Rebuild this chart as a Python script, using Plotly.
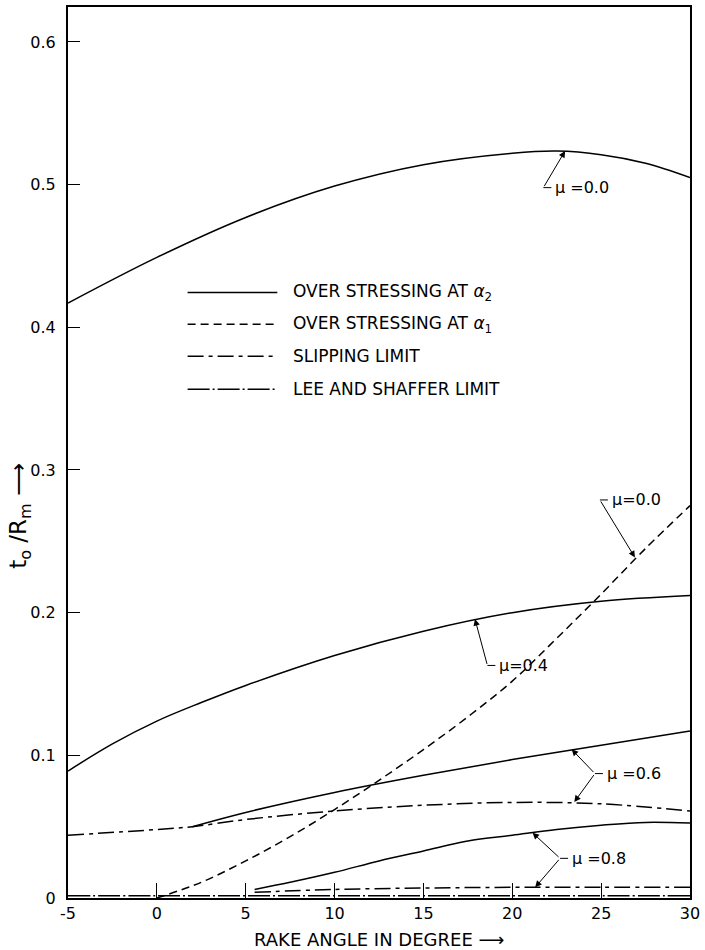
import plotly.graph_objects as go

# ---------------- data ----------------
# over stressing at alpha2 (solid)
x_a2_mu00 = [-5, 0, 5, 10, 15, 20, 22.5, 25, 27.5, 30]
y_a2_mu00 = [0.417, 0.449, 0.477, 0.499, 0.514, 0.522, 0.5235, 0.521, 0.515, 0.505]

x_a2_mu04 = [-5, -2.5, 0, 2.5, 5, 10, 15, 20, 25, 30]
y_a2_mu04 = [0.089, 0.108, 0.124, 0.137, 0.149, 0.170, 0.187, 0.200, 0.208, 0.212]

x_a2_mu06 = [2, 5, 10, 15, 20, 25, 30]
y_a2_mu06 = [0.050, 0.060, 0.074, 0.086, 0.097, 0.107, 0.117]

x_a2_mu08 = [5.5, 7.5, 10, 12.5, 15, 17.5, 20, 22.5, 25, 27.5, 30]
y_a2_mu08 = [0.006, 0.011, 0.018, 0.026, 0.033, 0.040, 0.044, 0.048, 0.051, 0.053, 0.0525]

# over stressing at alpha1 (dashed)
x_a1_mu00 = [0, 2.5, 5, 7.5, 10, 12.5, 15, 17.5, 20, 22.5, 25, 27.5, 30]
y_a1_mu00 = [0.0, 0.011, 0.026, 0.043, 0.062, 0.0825, 0.104, 0.127, 0.152, 0.182, 0.213, 0.245, 0.275]

# slipping limit
x_slip_mu06 = [-5, 0, 2, 5, 10, 15, 20, 25, 30]
y_slip_mu06 = [0.044, 0.048, 0.050, 0.055, 0.061, 0.065, 0.067, 0.066, 0.061]

x_slip_mu08 = [5.5, 10, 15, 20, 25, 30]
y_slip_mu08 = [0.004, 0.006, 0.007, 0.0075, 0.0075, 0.0075]

# Lee and Shaffer limit
x_lee = [-5, 0, 5, 10, 15, 20, 25, 30]
y_lee = [0.0015, 0.0015, 0.0015, 0.0015, 0.0015, 0.0015, 0.0015, 0.0015]

x_ticks = [-5, 0, 5, 10, 15, 20, 25, 30]
x_tick_labels = ["-5", "0", "5", "10", "15", "20", "25", "30"]
y_ticks = [0, 0.1, 0.2, 0.3, 0.4, 0.5, 0.6]
y_tick_labels = ["0", "0.1", "0.2", "0.3", "0.4", "0.5", "0.6"]

legend_labels = ["OVER STRESSING AT <i>α</i><sub>2</sub>",
                 "OVER STRESSING AT <i>α</i><sub>1</sub>",
                 "SLIPPING LIMIT",
                 "LEE AND SHAFFER LIMIT"]

# ---------------- styles ----------------
FONT = "DejaVu Sans"
SOLID = "solid"
DASHED = "8px,5px"
SLIP = "16px,5px,4px,5px"
LEE = "22px,3px,2px,3px"
LW = 1.5

fig = go.Figure()

def add(x, y, dash):
    fig.add_trace(go.Scatter(x=x, y=y, mode="lines", line_shape="spline",
                             line=dict(color="black", width=LW, dash=dash),
                             showlegend=False, hoverinfo="skip"))

add(x_a2_mu00, y_a2_mu00, SOLID)
add(x_a2_mu04, y_a2_mu04, SOLID)
add(x_a2_mu06, y_a2_mu06, SOLID)
add(x_a2_mu08, y_a2_mu08, SOLID)
add(x_a1_mu00, y_a1_mu00, DASHED)
add(x_slip_mu06, y_slip_mu06, SLIP)
add(x_slip_mu08, y_slip_mu08, SLIP)
add(x_lee, y_lee, LEE)

# ---------------- legend drawn by hand ----------------
shapes = []
annotations = []
legend_dash = [SOLID, DASHED, SLIP, LEE]
row_y = [0.6797, 0.6439, 0.6081, 0.5711]
for lab, d, ry in zip(legend_labels, legend_dash, row_y):
    shapes.append(dict(type="line", xref="paper", yref="paper",
                       x0=0.1923, x1=0.3365, y0=ry, y1=ry,
                       line=dict(color="black", width=LW, dash=d)))
    annotations.append(dict(xref="paper", yref="paper", x=0.359, y=ry,
                            xanchor="left", yanchor="middle", text=lab,
                            showarrow=False,
                            font=dict(family=FONT, size=17, color="black")))

# ---------------- mu labels with leader arrows ----------------
def arrow(tip, vert):
    annotations.append(dict(x=tip[0], y=tip[1], ax=vert[0], ay=vert[1],
                            xref="x", yref="y", axref="x", ayref="y",
                            text="", showarrow=True, arrowhead=2,
                            arrowsize=1.3, arrowwidth=1, arrowcolor="black"))

def label(vert, txt, stub=0.45):
    shapes.append(dict(type="line", xref="x", yref="y",
                       x0=vert[0], x1=vert[0] + stub, y0=vert[1], y1=vert[1],
                       line=dict(color="black", width=1)))
    annotations.append(dict(x=vert[0] + stub + 0.1, y=vert[1], xref="x", yref="y",
                            xanchor="left", yanchor="middle", text=txt,
                            showarrow=False,
                            font=dict(family=FONT, size=16, color="black")))

# top mu=0.0 (solid)
v = (21.75, 0.4979)
arrow((22.97, 0.5236), v)
label(v, "μ =0.0")
# dashed mu=0.0
v = (24.93, 0.279)
arrow((26.90, 0.2387), v)
label(v, "μ=0.0")
# mu=0.4
v = (18.6, 0.163)
arrow((17.9, 0.1955), v)
label(v, "μ=0.4")
# mu=0.6
v = (24.65, 0.0872)
arrow((23.34, 0.1042), v)
arrow((23.49, 0.0673), v)
label(v, "μ =0.6")
# mu=0.8
v = (22.69, 0.0278)
arrow((21.14, 0.0457), v)
arrow((21.29, 0.0075), v)
label(v, "μ =0.8")

# axis titles
annotations.append(dict(xref="paper", yref="paper", x=0.5, y=-0.047,
                        xanchor="center", yanchor="middle",
                        text="RAKE ANGLE IN DEGREE ⟶", showarrow=False,
                        font=dict(family=FONT, size=18, color="black")))
annotations.append(dict(xref="paper", yref="paper", x=-0.077, y=0.429,
                        xanchor="center", yanchor="middle", textangle=-90,
                        text="t<sub>o</sub> /R<sub>m</sub> ⟶", showarrow=False,
                        font=dict(family=FONT, size=23, color="black")))

fig.update_layout(
    width=705, height=950,
    margin=dict(l=68, r=13, t=5, b=52),
    paper_bgcolor="white", plot_bgcolor="white",
    font=dict(family=FONT, size=15, color="black"),
    shapes=shapes, annotations=annotations,
    showlegend=False,
)
fig.update_xaxes(range=[-5, 30], tickvals=x_ticks, ticktext=x_tick_labels,
                 ticks="inside", ticklen=15, tickwidth=1, tickcolor="black",
                 showline=True, linecolor="black", linewidth=2, mirror=True,
                 showgrid=False, zeroline=False,
                 tickfont=dict(family=FONT, size=16, color="black"))
fig.update_yaxes(range=[0, 0.6245], tickvals=y_ticks, ticktext=y_tick_labels,
                 ticks="inside", ticklen=12, tickwidth=1, tickcolor="black",
                 showline=True, linecolor="black", linewidth=2, mirror=True,
                 showgrid=False, zeroline=False, ticklabelstandoff=7,
                 tickfont=dict(family=FONT, size=16, color="black"))

fig.write_html("out.html",
               config={"displayModeBar": False},
               post_script="document.body.style.margin='0';"
                           "document.body.style.padding='0';")
